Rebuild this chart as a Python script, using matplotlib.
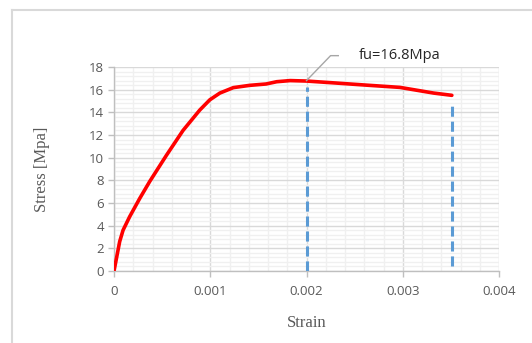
import matplotlib
matplotlib.use('Agg')
import matplotlib.pyplot as plt
from matplotlib.lines import Line2D
from matplotlib.ticker import MultipleLocator

# Stress-strain curve (strain, stress in MPa)
strain = [0, 0.000059, 0.000094, 0.000163, 0.000267, 0.000371, 0.000544, 0.000717,
          0.000891, 0.000995, 0.0011, 0.00124, 0.00141, 0.00158, 0.00169, 0.00183,
          0.0020, 0.00228, 0.00262, 0.00297, 0.00318, 0.00332, 0.00351]
stress = [0, 2.6, 3.6, 4.8, 6.4, 7.9, 10.2, 12.4,
          14.2, 15.1, 15.7, 16.18, 16.38, 16.5, 16.7, 16.8,
          16.76, 16.6, 16.4, 16.2, 15.9, 15.7, 15.5]

# dashed markers: peak strain and ultimate strain
peak_strain = 0.002
peak_stress = 16.8
ult_strain = 0.00351
peak_line = [0, 16.2]
ult_line = [0.4, 14.8]

xticks = [0, 0.001, 0.002, 0.003, 0.004]
xtick_labels = ['0', '0.001', '0.002', '0.003', '0.004']

grey = '#595959'

fig = plt.figure(figsize=(5.32, 3.43), dpi=100)
ax = fig.add_axes([0.2143, 0.2099, 0.7237, 0.5948])

# outer frame (left and top edges only show)
fx = 11.5 / 532
fy = 1 - 9.5 / 343
fig.lines.append(Line2D([fx, fx], [0, fy], transform=fig.transFigure,
                        color='#d9d9d9', lw=1.5))
fig.lines.append(Line2D([fx, 1], [fy, fy], transform=fig.transFigure,
                        color='#d9d9d9', lw=1.5))

ax.plot(strain, stress, color='red', lw=2.6, solid_joinstyle='round',
        solid_capstyle='round', zorder=4)
ax.plot([peak_strain, peak_strain], peak_line, color='#5b9bd5', lw=2.2,
        dashes=(3.3, 1.6), zorder=3)
ax.plot([ult_strain, ult_strain], ult_line, color='#5b9bd5', lw=2.2,
        dashes=(3.3, 1.6), zorder=3)

# leader line and label for the peak
ax.plot([peak_strain, 0.00225, 0.00233], [peak_stress, 19.0, 19.0],
        color='#a6a6a6', lw=1, clip_on=False, zorder=5)
ax.text(0.00254, 19.0, 'fu=16.8Mpa', fontsize=10.5, family='Open Sans',
        color='#262626', va='center', ha='left')

ax.set_xlim(0, 0.004)
ax.set_ylim(0, 18)
ax.set_xticks(xticks, xtick_labels)
ax.xaxis.set_minor_locator(MultipleLocator(0.0002))
ax.yaxis.set_major_locator(MultipleLocator(2))
ax.yaxis.set_minor_locator(MultipleLocator(0.4))

ax.grid(True, which='major', color='#d9d9d9', lw=1)
ax.grid(True, which='minor', color='#f0f0f0', lw=1)
ax.set_axisbelow(True)

for side in ['top', 'right']:
    ax.spines[side].set_visible(False)
for side in ['left', 'bottom']:
    ax.spines[side].set_color('#bfbfbf')
    ax.spines[side].set_linewidth(1)

ax.tick_params(which='major', direction='out', length=4, width=1,
               color='#bfbfbf', labelcolor=grey, labelsize=9.5)
ax.tick_params(axis='x', pad=6)
ax.tick_params(axis='y', pad=3)
ax.tick_params(which='minor', length=0)
for lab in ax.get_xticklabels() + ax.get_yticklabels():
    lab.set_family('Open Sans')

ax.set_xlabel('Strain', family='Liberation Serif', fontsize=12, color=grey,
              labelpad=12)
ax.set_ylabel('Stress [Mpa]', family='Liberation Serif', fontsize=12,
              color=grey, labelpad=28)

plt.savefig('out.png', dpi=100)
